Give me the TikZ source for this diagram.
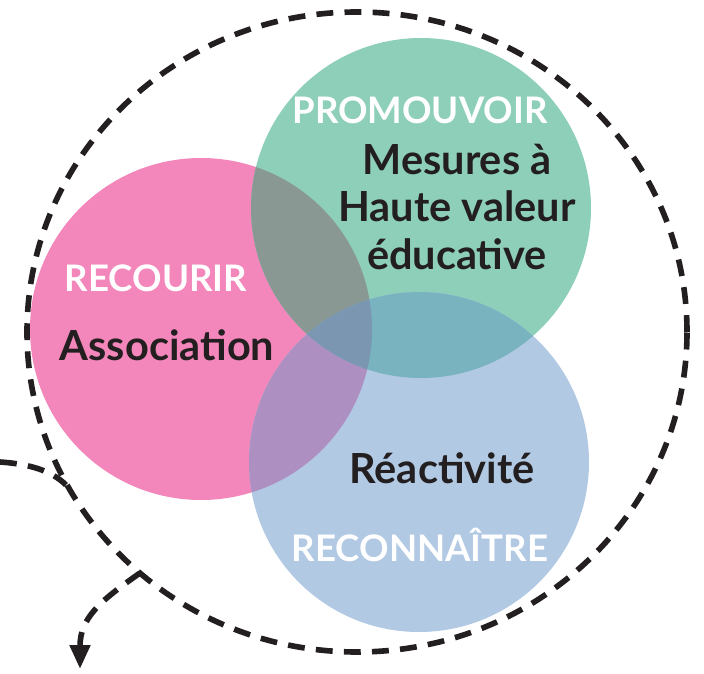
\documentclass[tikz,border=0pt]{standalone}
\usepackage{fontspec}
\setmainfont{Lato}
\usetikzlibrary{arrows.meta}
\definecolor{inkblack}{HTML}{231F20}
\definecolor{pinkc}{HTML}{F386BA}
\definecolor{greenc}{HTML}{8DCFB9}
\definecolor{bluec}{HTML}{B2C9E4}
\definecolor{pinkgreen}{HTML}{8A9894}
\definecolor{pinkblue}{HTML}{AD8FC2}
\definecolor{greenblue}{HTML}{79B3BF}
\definecolor{allthree}{HTML}{7A96B0}
\tikzset{
    dashline/.style={draw=inkblack, line width=4pt, dash pattern=on 12pt off 8pt},
    title/.style={text=white, font=\bfseries\fontsize{26}{30}\selectfont},
    word/.style={text=inkblack, align=center, font=\bfseries\fontsize{29.5}{34}\selectfont}
}
\begin{document}
\begin{tikzpicture}[x=0.025cm, y=0.025cm]
        \useasboundingbox (0, 0) rectangle (704, 673);
        \fill[pinkc] (201, 344) circle (171);
        \fill[greenc] (421, 465) circle (170);
        \fill[bluec] (419, 211) circle (170);
        \begin{scope}
            \clip (201, 344) circle (171);
            \fill[pinkgreen] (421, 465) circle (170);
            \fill[pinkblue] (419, 211) circle (170);
        \end{scope}
        \begin{scope}
            \clip (421, 465) circle (170);
            \fill[greenblue] (419, 211) circle (170);
            \clip (201, 344) circle (171);
            \fill[allthree] (419, 211) circle (170);
        \end{scope}
        \draw[dashline] (357, 341) ellipse [x radius=330, y radius=320];
        \coordinate (entry) at (0, 211);
        \coordinate (join) at (66, 188);
        \coordinate (split) at (140, 100);
        \coordinate (exit) at (80, 4);
        \draw[dashline] (entry) .. controls (30, 209) and (52, 202) .. (join);
        \draw[dashline, -{Triangle[length=17pt, width=14pt]}] (split) .. controls (100, 72) and (80, 55) .. (exit);
        \node[title] (promouvoir) at (420, 563) {PROMOUVOIR};
        \node[word] (mesures) at (457, 466) {Mesures à\\Haute valeur\\éducative};
        \node[title] (recourir) at (156, 395) {RECOURIR};
        \node[word] (association) at (167, 328) {Association};
        \node[word] (reactivite) at (442, 205) {Réactivité};
        \node[title] (reconnaitre) at (420, 128) {RECONNAÎTRE};
    \end{tikzpicture}
\end{document}
